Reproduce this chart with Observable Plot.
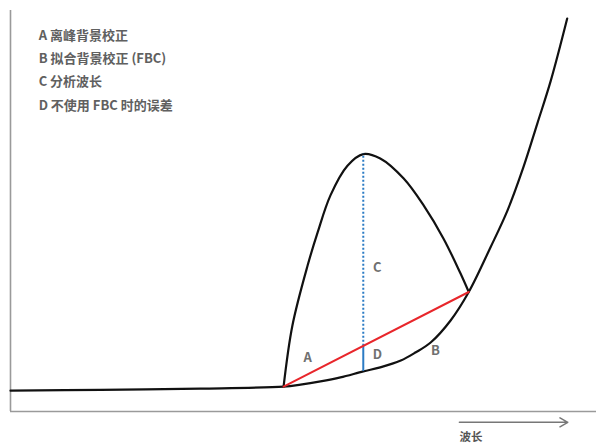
<!DOCTYPE html>
<html>
<head>
<meta charset="utf-8">
<script src="https://cdn.jsdelivr.net/npm/d3@7"></script>
<script src="https://cdn.jsdelivr.net/npm/@observablehq/plot@0.6"></script>
<style>
  body { margin: 0; background: #fff; }
  svg { font-family: "Noto Sans CJK SC", "Noto Sans", sans-serif; }
</style>
</head>
<body>
<div id="chart"></div>
<script>
// Background (spectral baseline) curve
const baseX = [0, 15.4, 32.4, 46.6, 49.5, 52.9, 56.3, 60.2, 63.1, 66.6, 69.1, 71.7, 75.1, 78.2, 81.9, 84.8, 87.5, 89.9, 92.2, 95.0];
const baseY = [5.2, 5.4, 5.7, 6.2, 6.7, 7.5, 8.5, 10.0, 11.0, 12.7, 14.7, 17.2, 22.7, 29.8, 40.9, 50.1, 60.8, 71.8, 82.5, 98.0];
// Peak curve
const peakX = [46.6, 48.1, 50.7, 52.4, 54.6, 57.5, 60.2, 63.1, 67.1, 70.5, 73.9, 76.8, 78.2];
const peakY = [6.2, 21.4, 36.4, 44.6, 53.9, 61.3, 64.2, 63.1, 58.1, 51.4, 43.1, 34.4, 29.8];
// Off-peak background correction line (A)
const lineX = [46.6, 78.2];
const lineY = [6.2, 29.8];
// Analysis wavelength
const analysisX = 60.2;
const analysisTop = 64.2;
const analysisMid = 16.3;
const analysisBottom = 10.0;
// Point labels
const labelText = ["A", "B", "C", "D"];
const labelX = [50.7, 72.5, 62.6, 62.6];
const labelY = [13.5, 15.2, 35.9, 14.2];
// Legend
const legendText = ["A 离峰背景校正", "B 拟合背景校正 (FBC)", "C 分析波长", "D 不使用 FBC 时的误差"];
const legendY = [93.8, 88.0, 82.2, 76.3];
const legendX = 4.8;
// Axis label
const axisLabel = "波长";
const arrowX = [76.6, 95.1];
const arrowY = -2.7;
const axisLabelY = -6.5;

const base = baseX.map((x, i) => ({x, y: baseY[i]}));
const peak = peakX.map((x, i) => ({x, y: peakY[i]}));
const redLine = lineX.map((x, i) => ({x, y: lineY[i]}));
const labels = labelText.map((t, i) => ({t, x: labelX[i], y: labelY[i]}));
const legend = legendText.map((t, i) => ({t, x: legendX, y: legendY[i]}));

const chart = Plot.plot({
  width: 597,
  height: 443,
  marginLeft: 10,
  marginRight: 1,
  marginTop: 10,
  marginBottom: 32,
  x: {domain: [0, 100], axis: null},
  y: {domain: [0, 100], axis: null},
  marks: [
    Plot.ruleX([0], {stroke: "#9a9a9a", strokeWidth: 1.6}),
    Plot.ruleY([0], {stroke: "#9a9a9a", strokeWidth: 1.6}),
    Plot.line(peak, {x: "x", y: "y", curve: "catmull-rom", stroke: "#111", strokeWidth: 2.2}),
    Plot.line(base, {x: "x", y: "y", curve: "catmull-rom", stroke: "#111", strokeWidth: 2.2}),
    Plot.ruleX([analysisX], {y1: analysisMid, y2: analysisTop, stroke: "#2b7bc4", strokeWidth: 2, strokeDasharray: "2,2"}),
    Plot.ruleX([analysisX], {y1: analysisBottom, y2: analysisMid, stroke: "#2b7bc4", strokeWidth: 2}),
    Plot.line(redLine, {x: "x", y: "y", stroke: "#e8262b", strokeWidth: 2}),
    Plot.text(labels, {x: "x", y: "y", text: "t", fill: "#707070", fontSize: 13, fontWeight: "bold", textAnchor: "middle"}),
    Plot.text(legend, {x: "x", y: "y", text: "t", fill: "#606060", fontSize: 13, fontWeight: "bold", textAnchor: "start"}),
    Plot.arrow([{x1: arrowX[0], x2: arrowX[1], y: arrowY}], {x1: "x1", x2: "x2", y1: "y", y2: "y", stroke: "#777", strokeWidth: 1.5, headLength: 9, clip: false}),
    Plot.text([axisLabel], {x: arrowX[0], y: axisLabelY, text: d => d, fill: "#555", fontSize: 11.5, fontWeight: "bold", textAnchor: "start", clip: false})
  ]
});
document.getElementById("chart").appendChild(chart);
</script>
</body>
</html>
